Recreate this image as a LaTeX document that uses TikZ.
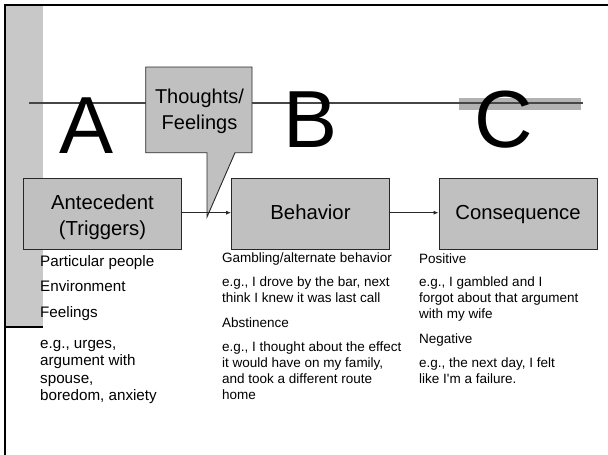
\documentclass[tikz,border=0pt]{standalone}
\usepackage{fontspec}
\setmainfont{Liberation Sans}
\usetikzlibrary{arrows.meta}
\definecolor{boxgray}{RGB}{192,192,192}
\definecolor{bargray}{RGB}{200,200,200}
\definecolor{cbargray}{RGB}{178,178,178}
\definecolor{linegray}{RGB}{70,70,70}
\definecolor{boxline}{RGB}{40,40,40}
\begin{document}
\begin{tikzpicture}[x=1pt,y=-1pt,
  box/.style={draw=boxline,fill=boxgray,line width=0.9pt,inner sep=0pt,
    minimum width=158pt,minimum height=70.7pt,align=center,
    font=\fontsize{20.3}{26.7}\selectfont},
  onebox/.style={box,text height=14.8pt,text depth=3.6pt},
  bigletter/.style={anchor=base,inner sep=0pt,font=\fontsize{81}{90}\selectfont},
  listA/.style={anchor=base west,align=left,inner sep=0pt,font=\fontsize{15.2}{17.5}\selectfont},
  listB/.style={anchor=base west,align=left,inner sep=0pt,font=\fontsize{13.5}{16}\selectfont},
  arr/.style={-{Latex[length=5pt,width=4pt]},line width=0.8pt,draw=boxline}]
\useasboundingbox (0,0) rectangle (608,455);
\fill[white] (0,0) rectangle (608,455);
% left gray bar and frame
\fill[bargray] (5,6) rectangle (43,327);
\draw[line width=2pt] (5,327) -- (43,327);
\draw[line width=2pt] (5,455) -- (5,5) -- (608,5);
% gray bar behind C
\fill[cbargray] (459,98) rectangle (581,110);
% timeline
\coordinate (tl0) at (29,103);
\coordinate (tl1) at (583,103);
\draw[linegray,line width=1.2pt] (tl0) -- (tl1);
% big letters
\node[bigletter] (lA) at (86.5,153) {A};
\node[bigletter] (lB) at (310.5,147) {B};
\node[bigletter] (lC) at (504,147) {C};
% callout
\coordinate (tip) at (207,217);
\filldraw[fill=boxgray,draw=boxline,line width=0.9pt]
  (145.7,67) -- (252,67) -- (252,152.7) -- (235,152.7) -- (tip)
  -- (207,152.7) -- (145.7,152.7) -- cycle;
\node[align=center,inner sep=0pt,anchor=base,
  font=\fontsize{20}{26}\selectfont] (tf) at (199.5,129) {Thoughts/\\Feelings};
% boxes
\node[box,text height=47.5pt,text depth=3.5pt] (ante) at (102.5,213.7) {Antecedent\\(Triggers)};
\node[onebox] (beh) at (310.5,213.7) {Behavior};
\node[onebox] (cons) at (518,213.7) {Consequence};
% arrows
\draw[arr] ([yshift=1pt]ante.east) -- ([yshift=1pt]beh.west);
\draw[arr] ([yshift=1pt]beh.east) -- ([yshift=1pt]cons.west);
% left column (base anchor = last line)
\node[listA] (a1) at (40,266) {Particular people};
\node[listA] (a2) at (40,291.5) {Environment};
\node[listA] (a3) at (40,317) {Feelings};
\node[listA] (a4) at (40,400.8) {e.g., urges,\\argument with\\spouse,\\boredom, anxiety};
% middle column
\node[listB] (b1) at (222,262.3) {Gambling/alternate behavior};
\node[listB] (b2) at (222,302.7) {e.g., I drove by the bar, next\\think I knew it was last call};
\node[listB] (b3) at (222,327.3) {Abstinence};
\node[listB] (b4) at (222,399) {e.g., I thought about the effect\\it would have on my family,\\and took a different route\\home};
% right column
\node[listB] (c1) at (419,263.3) {Positive};
\node[listB] (c2) at (419,318.3) {e.g., I gambled and I\\forgot about that argument\\with my wife};
\node[listB] (c3) at (419,343.3) {Negative};
\node[listB] (c4) at (419,383.3) {e.g., the next day, I felt\\like I\textquotesingle m a failure.};
\end{tikzpicture}
\end{document}
